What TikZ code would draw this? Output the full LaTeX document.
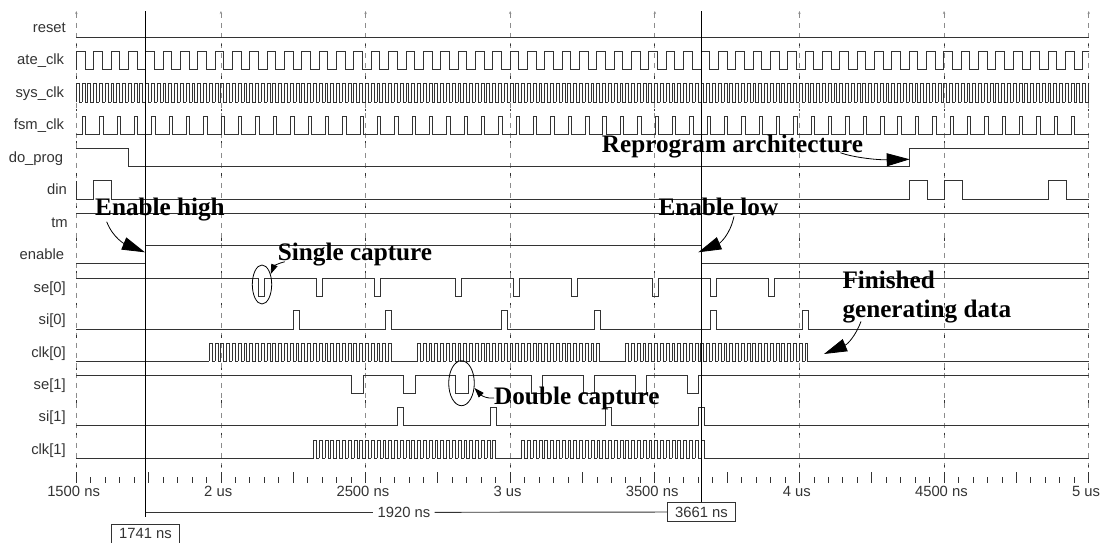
\documentclass[tikz,border=0pt]{standalone}
\usepackage{fontspec}
\setmainfont{Liberation Sans}
\newfontfamily\notefont{Liberation Serif}
\usetikzlibrary{arrows.meta,calc,shapes.geometric}
\definecolor{Trace}{HTML}{333333}
\definecolor{Grid}{HTML}{8C8C8C}
\tikzset{
  wave/.style={draw=Trace,line width=.95pt,line join=miter},
  gridline/.style={draw=Grid,line width=.8pt,dash pattern=on 5pt off 5pt},
  tickline/.style={draw=Trace,line width=.8pt},
  cursor/.style={draw=black,line width=.95pt},
  span/.style={draw=Trace,line width=.95pt},
  siglabel/.style={anchor=base east,inner sep=0pt,font=\fontsize{14.8}{16}\selectfont,text=Trace},
  axislabel/.style={inner sep=0pt,font=\fontsize{14.8}{16}\selectfont,text=Trace},
  readout/.style={draw=Trace,line width=.95pt,fill=white,minimum width=68.4pt,minimum height=19.4pt,inner sep=0pt,font=\fontsize{14.8}{16}\selectfont,text=Trace},
  note/.style={anchor=base west,inner sep=0pt,font=\notefont\bfseries\fontsize{25.2}{29}\selectfont,text=black},
  ring/.style={draw=black,line width=.8pt,ellipse,inner sep=0pt},
  bigcall/.style={-{Triangle[length=23pt,width=13pt]},draw=black,line width=.8pt},
  smallcall/.style={-{Triangle[length=10pt,width=6.5pt]},draw=black,line width=.8pt}
}
\newcommand{\pulsewave}[3]{%
  \draw[wave] (76.3,#1) \foreach \a/\b in {#3} {-- (\a,#1) -- (\a,#2) -- (\b,#2) -- (\b,#1)} -- (1088.7,#1);}
\newcommand{\clockwave}[6]{%
  \draw[wave] \foreach \k [evaluate=\k as \xa using #3+\k*#4,evaluate=\k as \xb using #3+\k*#4+#5] in {0,...,#6}
    {(\xa,#1) -- (\xa,#2) -- (\xb,#2) -- (\xb,#1) -- ++(#4-#5,0)};}
\begin{document}
\begin{tikzpicture}[x=1pt,y=-1pt]
  \useasboundingbox (0,0) rectangle (1104,542);
  % grid and time axis
  \foreach \k in {0,...,7} {
    \draw[gridline,{Stealth[length=3pt,width=2.4pt]}-] ({76.3+\k*144.63},11) -- ({76.3+\k*144.63},472);
    \foreach \r in {1,...,14}
      \draw[tickline] ({76.3+\k*144.63},{11.3+\r*32.4}) -- ++(0,2.4);
  }
  \foreach \k in {0,...,70}
    \draw[tickline] ({76.3+\k*14.463},477.3) -- ({76.3+\k*14.463},483.3);
  \foreach \k in {0,...,14}
    \draw[tickline] ({76.3+\k*72.315},472) -- ({76.3+\k*72.315},483.3);
  \foreach \k/\tlab in {0/1500 ns,1/2 us,2/2500 ns,3/3 us,4/3500 ns,5/4 us,6/4500 ns,7/5 us}
    \node[axislabel] (axis\k) at ({73.6+\k*144.63},491) {\tlab};
  % signal names
  \foreach \lab/\ex [count=\i from 0] in {reset/66,ate\_clk/64.3,sys\_clk/64.3,fsm\_clk/64.3,do\_prog/63.3,din/67,tm/68,enable/64.3,se[0]/66,si[0]/66,clk[0]/66,se[1]/66,si[1]/66,clk[1]/66}
    \node[siglabel] (name\i) at ({\ex},{32.5+\i*32.45}) {\lab};
  % traces
  \begin{scope}
    \clip (75.8,0) rectangle (1089.2,542);
    \draw[wave] (76.3,37) -- (1088.7,37);
    \clockwave{69.5}{51}{76.3}{17.352}{8.676}{58}
    \clockwave{102}{83}{76.3}{5.784}{2.892}{175}
    \draw[wave] (76.3,134.5) -- (82.4,134.5);
    \clockwave{134.5}{116}{82.4}{17.352}{3.4}{57}
    \draw[wave] (76.3,148) -- (128.5,148) -- (128.5,166.5) -- (909.7,166.5) -- (909.7,148) -- (1088.7,148);
    \draw[wave] (76.3,181) -- (76.3,199);
    \pulsewave{199}{180.5}{93.6/111.2,909.7/927.3,944.7/962,1048/1066}
    \draw[wave] (76.3,213.5) -- (1088.7,213.5);
    \draw[wave] (76.3,263.5) -- (145.7,263.5) -- (145.7,245.5) -- (701.3,245.5) -- (701.3,263.5) -- (1088.7,263.5);
    \pulsewave{278}{296}{258.7/264.7,316.3/322.3,374.7/380.7,455.7/461.7,513.3/519.3,571.7/577.4,652.3/658.3,710.3/716.3,768/774}
    \pulsewave{329}{310.7}{293.3/299.3,385.7/391.7,501.7/507.7,594/600,710.3/716,802.3/808.3}
    \draw[wave] (76.3,361.3) -- (209.3,361.3);
    \draw[wave] (391.5,361.3) -- (417.5,361.3);
    \draw[wave] (599.7,361.3) -- (625.7,361.3);
    \draw[wave] (807.9,361.3) -- (1088.7,361.3);
    \clockwave{361.3}{343.3}{209.3}{5.784}{2.892}{31}
    \clockwave{361.3}{343.3}{417.5}{5.784}{2.892}{31}
    \clockwave{361.3}{343.3}{625.7}{5.784}{2.892}{31}
    \pulsewave{375.3}{393.7}{351.3/363.3,403.7/415.3,455.7/468,531/542.3,583.3/594.7,635.7/646.7,687/698.7}
    \pulsewave{425.7}{407.7}{397.7/403.7,490.3/496.3,605.7/611.7,698.3/704.3}
    \draw[wave] (76.3,458.3) -- (313.6,458.3);
    \draw[wave] (495.8,458.3) -- (521.8,458.3);
    \draw[wave] (704,458.3) -- (1088.7,458.3);
    \clockwave{458.3}{440.3}{313.6}{5.784}{2.892}{31}
    \clockwave{458.3}{440.3}{521.8}{5.784}{2.892}{31}
  \end{scope}
  % cursors and readouts
  \node[readout] (readleft) at (145.5,533.7) {1741 ns};
  \node[readout] (readright) at (701.5,512) {3661 ns};
  \node[axislabel,inner xsep=4pt,inner ysep=2pt] (spanlab) at (404,512.3) {1920 ns};
  \coordinate (topleft) at (145.7,11);
  \coordinate (topright) at (701.3,11);
  \coordinate (footleft) at (145.7,517);
  \coordinate (spanleft) at (145.7,512.3);
  \draw[cursor] (topleft) -- (footleft);
  \draw[cursor] (topright) -- (readright.north -| topright);
  \draw[span] (spanleft) -- (spanlab.west);
  \draw[span] (spanlab.east) -- (readright.west);
  % notes
  \node[note] (enhigh) at (95,215) {Enable high};
  \node[note] (enlow) at (658.3,215) {Enable low};
  \node[note] (sglcap) at (277.7,260) {Single capture};
  \node[note] (dblcap) at (494,404) {Double capture};
  \node[note] (reprog) at (601.7,152) {Reprogram architecture};
  \node[note,anchor=north west,align=left] (finish) at (842.3,271) {Finished\\generating data};
  \node[ring,minimum width=19.4pt,minimum height=39pt] (sglring) at (262,284.5) {};
  \node[ring,minimum width=25.6pt,minimum height=45pt] (dblring) at (461.5,383.2) {};
  \coordinate (hightip) at (145,252.3);
  \coordinate (lowtip) at (698.3,252.3);
  \coordinate (progtip) at (909.7,159.3);
  \coordinate (donetip) at (824,354);
  \draw[bigcall] ($(enhigh.south west)+(11.7,1)$) .. controls (113,238) and (125,244) .. (hightip);
  \draw[bigcall] ($(enlow.south west)+(75.7,1)$) .. controls (730,235) and (720,243) .. (lowtip);
  \draw[bigcall] ($(reprog.south east)+(-22.7,-5)$) .. controls (852,157) and (875,160) .. (progtip);
  \draw[bigcall] ($(finish.south west)+(18.7,-2)$) .. controls (856,335) and (848,344) .. (donetip);
  \draw[smallcall] ($(sglcap.south west)+(7,-4)$) .. controls (279,263) and (274,266) .. (sglring.50);
  \draw[smallcall] (dblcap.west) .. controls (488,399) and (482,396) .. (dblring.-20);
\end{tikzpicture}
\end{document}
